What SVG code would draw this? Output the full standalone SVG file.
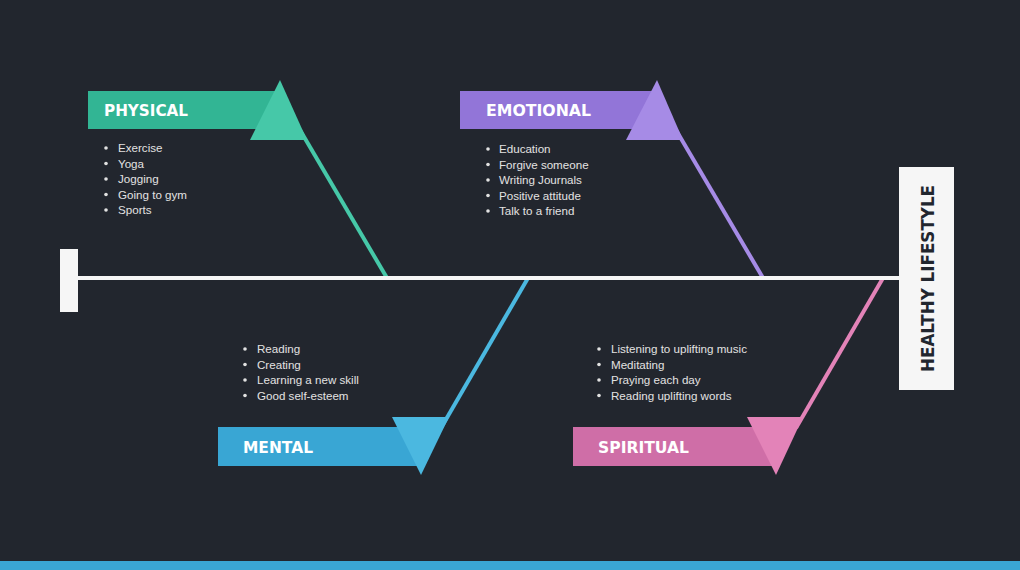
<svg xmlns="http://www.w3.org/2000/svg" width="1020" height="570" viewBox="0 0 1020 570">
<style>
.title{font-family:"DejaVu Sans","Liberation Sans",sans-serif;font-weight:bold;font-size:16px;fill:#ffffff}
.item{font-family:"Liberation Sans",Arial,sans-serif;font-size:11.6px;fill:#e2e2e2}
.dot{fill:#e2e2e2}
.bone{stroke-width:4;fill:none}
</style>
<rect x="0" y="0" width="1020" height="570" fill="#22262e"/>
<rect x="0" y="561" width="1020" height="9" fill="#3aa6d4"/>

<g id="connectors">
  <line class="bone" x1="300" y1="130" x2="387" y2="278" stroke="#46c8a8"/>
  <line class="bone" x1="676" y1="130" x2="763" y2="278" stroke="#a68be6"/>
  <line class="bone" x1="441" y1="428" x2="528" y2="278" stroke="#4bb8e0"/>
  <line class="bone" x1="796" y1="428" x2="883" y2="278" stroke="#e383b8"/>
  <rect x="60" y="249" width="18" height="63" fill="#f6f6f6"/>
  <rect x="78" y="276" width="822" height="4" fill="#f6f6f6"/>
</g>

<g id="head">
  <rect x="899" y="167" width="55" height="223" fill="#f6f6f6"/>
  <text x="0" y="0" transform="translate(934,278.5) rotate(-90)" text-anchor="middle" textLength="187" lengthAdjust="spacingAndGlyphs" style="font-family:'DejaVu Sans','Liberation Sans',sans-serif;font-weight:bold;font-size:17px;fill:#22262e">HEALTHY LIFESTYLE</text>
</g>

<g id="physical">
  <rect x="88" y="91" width="190" height="38" fill="#32b594"/>
  <polygon points="280,80 250,140 307,140" fill="#46c8a8"/>
  <text class="title" x="104" y="116" textLength="84" lengthAdjust="spacingAndGlyphs">PHYSICAL</text>
  <circle class="dot" cx="106" cy="148" r="1.8"/><text class="item" x="118" y="152">Exercise</text>
  <circle class="dot" cx="106" cy="163.5" r="1.8"/><text class="item" x="118" y="167.5">Yoga</text>
  <circle class="dot" cx="106" cy="179" r="1.8"/><text class="item" x="118" y="183">Jogging</text>
  <circle class="dot" cx="106" cy="194.5" r="1.8"/><text class="item" x="118" y="198.5">Going to gym</text>
  <circle class="dot" cx="106" cy="210" r="1.8"/><text class="item" x="118" y="214">Sports</text>
</g>

<g id="emotional">
  <rect x="460" y="91" width="195" height="38" fill="#9275d8"/>
  <polygon points="657,80 626,140 683,140" fill="#a68be6"/>
  <text class="title" x="486" y="116" textLength="105" lengthAdjust="spacingAndGlyphs">EMOTIONAL</text>
  <circle class="dot" cx="488" cy="149" r="1.8"/><text class="item" x="499" y="153">Education</text>
  <circle class="dot" cx="488" cy="164.5" r="1.8"/><text class="item" x="499" y="168.5">Forgive someone</text>
  <circle class="dot" cx="488" cy="180" r="1.8"/><text class="item" x="499" y="184">Writing Journals</text>
  <circle class="dot" cx="488" cy="195.5" r="1.8"/><text class="item" x="499" y="199.5">Positive attitude</text>
  <circle class="dot" cx="488" cy="211" r="1.8"/><text class="item" x="499" y="215">Talk to a friend</text>
</g>

<g id="mental">
  <rect x="218" y="427" width="202" height="39" fill="#39a6d4"/>
  <polygon points="392,417 449,417 421,475" fill="#4bb8e0"/>
  <text class="title" x="243" y="453" textLength="70" lengthAdjust="spacingAndGlyphs">MENTAL</text>
  <circle class="dot" cx="245" cy="349" r="1.8"/><text class="item" x="257" y="353">Reading</text>
  <circle class="dot" cx="245" cy="364.5" r="1.8"/><text class="item" x="257" y="368.5">Creating</text>
  <circle class="dot" cx="245" cy="380" r="1.8"/><text class="item" x="257" y="384">Learning a new skill</text>
  <circle class="dot" cx="245" cy="395.5" r="1.8"/><text class="item" x="257" y="399.5">Good self-esteem</text>
</g>

<g id="spiritual">
  <rect x="573" y="427" width="201" height="39" fill="#cf6ea7"/>
  <polygon points="747,417 803,417 776,475" fill="#e383b8"/>
  <text class="title" x="598" y="453" textLength="91" lengthAdjust="spacingAndGlyphs">SPIRITUAL</text>
  <circle class="dot" cx="599" cy="349" r="1.8"/><text class="item" x="611" y="353">Listening to uplifting music</text>
  <circle class="dot" cx="599" cy="364.5" r="1.8"/><text class="item" x="611" y="368.5">Meditating</text>
  <circle class="dot" cx="599" cy="380" r="1.8"/><text class="item" x="611" y="384">Praying each day</text>
  <circle class="dot" cx="599" cy="395.5" r="1.8"/><text class="item" x="611" y="399.5">Reading uplifting words</text>
</g>
</svg>
